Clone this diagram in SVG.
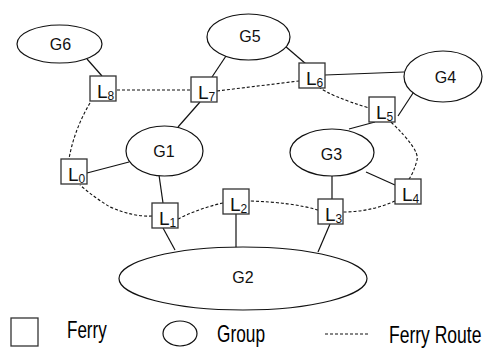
<svg xmlns="http://www.w3.org/2000/svg" width="484" height="353" viewBox="0 0 484 353">
  <style>
    .grp { fill: #fff; stroke: #111; stroke-width: 1.2; }
    .ferry { fill: #fff; stroke: #333; stroke-width: 1.3; }
    .link { fill: none; stroke: #111; stroke-width: 1.2; }
    .route { fill: none; stroke: #111; stroke-width: 1.1; stroke-dasharray: 3 2; }
    .glabel { font-family: "Liberation Sans", Arial, sans-serif; font-size: 16px; fill: #111; text-anchor: middle; }
    .llabel { font-family: "Liberation Sans", Arial, sans-serif; font-size: 19px; fill: #111; }
    .sub { font-size: 12px; }
    .legend { font-family: "Liberation Sans", Arial, sans-serif; font-size: 24px; fill: #000; }
  </style>

  <!-- connectors: solid = group membership, dashed = ferry route -->
  <g id="connectors">
    <line class="link" x1="87" y1="59" x2="102" y2="76"/>
    <line class="link" x1="212" y1="77" x2="226" y2="56"/>
    <line class="link" x1="200" y1="102" x2="178" y2="127"/>
    <line class="link" x1="87" y1="173" x2="129" y2="162"/>
    <line class="link" x1="159" y1="175" x2="163" y2="203"/>
    <line class="link" x1="163" y1="228" x2="175" y2="250"/>
    <line class="link" x1="236" y1="214" x2="236" y2="248"/>
    <line class="link" x1="332" y1="176" x2="332" y2="199"/>
    <line class="link" x1="330" y1="224" x2="318" y2="252"/>
    <line class="link" x1="366" y1="172" x2="395" y2="185"/>
    <line class="link" x1="375" y1="122" x2="349" y2="129"/>
    <line class="link" x1="398" y1="116" x2="417" y2="87"/>
    <line class="link" x1="325" y1="75" x2="404" y2="72"/>
    <line class="link" x1="285" y1="46" x2="306" y2="64"/>

    <line class="route" x1="117" y1="90" x2="191" y2="90"/>
    <path class="route" d="M217,91 L299,81"/>
    <path class="route" d="M90,103 Q74,130 69,159"/>
    <path class="route" d="M319,87 Q330,96 369,108"/>
    <path class="route" d="M391,122 Q420,150 417,160 Q414,172 409,179"/>
    <path class="route" d="M395,201 Q370,212 343,212"/>
    <path class="route" d="M318,210 Q290,202 249,201"/>
    <path class="route" d="M223,203 Q200,208 178,219"/>
    <path class="route" d="M152,216 Q133,217 110,207 Q95,198 80,185"/>
  </g>

  <!-- groups -->
  <g id="G6"><ellipse class="grp" cx="59.5" cy="44" rx="42.5" ry="19"/><text class="glabel" x="60.5" y="49.5">G6</text></g>
  <g id="G5"><ellipse class="grp" cx="248.5" cy="37" rx="41.5" ry="23"/><text class="glabel" x="250" y="41.5">G5</text></g>
  <g id="G4"><ellipse class="grp" cx="443" cy="76.5" rx="39" ry="25.5"/><text class="glabel" x="445.5" y="83">G4</text></g>
  <g id="G1"><ellipse class="grp" cx="164.5" cy="151" rx="38.5" ry="25"/><text class="glabel" x="164" y="157">G1</text></g>
  <g id="G3"><ellipse class="grp" cx="332" cy="152.5" rx="42" ry="23.5"/><text class="glabel" x="331.5" y="160">G3</text></g>
  <g id="G2"><ellipse class="grp" cx="243" cy="278.5" rx="124" ry="31.5"/><text class="glabel" x="243" y="283">G2</text></g>

  <!-- ferries -->
  <g id="L8"><rect class="ferry" x="90" y="76" width="26" height="25"/><text class="llabel" x="97" y="98">L<tspan class="sub" dy="2">8</tspan></text></g>
  <g id="L7"><rect class="ferry" x="191" y="77" width="26" height="25"/><text class="llabel" x="198" y="99">L<tspan class="sub" dy="2">7</tspan></text></g>
  <g id="L6"><rect class="ferry" x="299" y="63" width="26" height="25"/><text class="llabel" x="306" y="85">L<tspan class="sub" dy="2">6</tspan></text></g>
  <g id="L5"><rect class="ferry" x="369" y="97" width="26" height="25"/><text class="llabel" x="376" y="119">L<tspan class="sub" dy="2">5</tspan></text></g>
  <g id="L4"><rect class="ferry" x="395" y="179" width="26" height="25"/><text class="llabel" x="402" y="201">L<tspan class="sub" dy="2">4</tspan></text></g>
  <g id="L3"><rect class="ferry" x="318" y="199" width="25" height="25"/><text class="llabel" x="325" y="221">L<tspan class="sub" dy="2">3</tspan></text></g>
  <g id="L2"><rect class="ferry" x="223" y="189" width="26" height="25"/><text class="llabel" x="230" y="211">L<tspan class="sub" dy="2">2</tspan></text></g>
  <g id="L1"><rect class="ferry" x="152" y="203" width="26" height="25"/><text class="llabel" x="159" y="225">L<tspan class="sub" dy="2">1</tspan></text></g>
  <g id="L0"><rect class="ferry" x="61" y="159" width="26" height="25"/><text class="llabel" x="68" y="181">L<tspan class="sub" dy="2">0</tspan></text></g>

  <!-- legend (condensed lettering via horizontal scale) -->
  <g id="legend">
    <rect class="ferry" x="11" y="318" width="27" height="28"/>
    <text class="legend" transform="translate(67,338) scale(0.71,1)">Ferry</text>
    <ellipse class="grp" cx="180" cy="333.5" rx="17" ry="12.5"/>
    <text class="legend" transform="translate(217,342) scale(0.72,1)">Group</text>
    <line class="route" x1="325" y1="334" x2="370" y2="334"/>
    <text class="legend" transform="translate(389,343) scale(0.73,1)">Ferry Route</text>
  </g>
</svg>
